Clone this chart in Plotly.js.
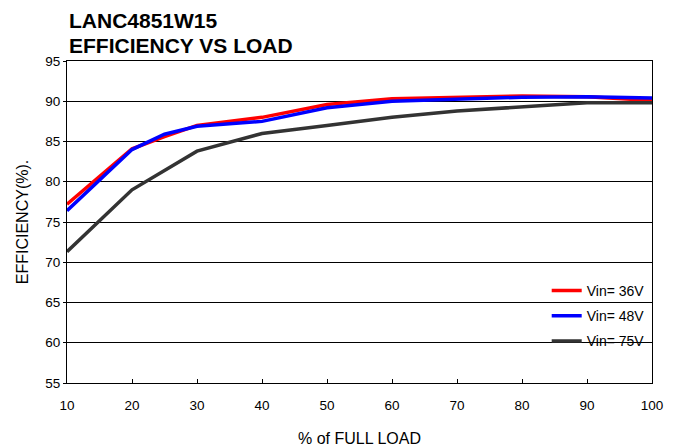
<!DOCTYPE html>
<html><head><meta charset="utf-8">
<script src="https://cdn.plot.ly/plotly-3.0.1.min.js"></script>
<style>body{margin:0;background:#fff}#chart{width:685px;height:448px}</style>
</head><body><div id="chart"></div>
<script>
const loadA = [10, 20, 25, 30, 40, 50, 60, 70, 80, 90, 100];
const vin36 = [77.2, 84.1, 85.6, 87.0, 88.0, 89.6, 90.3, 90.5, 90.65, 90.55, 90.1];
const vin48 = [76.4, 84.0, 85.9, 86.9, 87.5, 89.2, 90.0, 90.2, 90.5, 90.55, 90.4];
const loadB = [10, 20, 30, 40, 50, 60, 70, 80, 90, 100];
const vin75 = [71.3, 79.0, 83.8, 86.0, 87.0, 88.0, 88.8, 89.3, 89.8, 89.8];
const names = ["Vin= 36V", "Vin= 48V", "Vin= 75V"];
const colors = ["#ff0000", "#0000ff", "#333333"];
const titleLines = ["LANC4851W15", "EFFICIENCY VS LOAD"];

const traces = [
  {x: loadA, y: vin36, name: names[0], legendgroup: "a", mode: "lines", line: {color: colors[0], width: 3.5}},
  {x: loadA, y: vin48, name: names[1], legendgroup: "b", mode: "lines", line: {color: colors[1], width: 3.5}},
  {x: loadB, y: vin75, name: names[2], legendgroup: "c", mode: "lines", line: {color: colors[2], width: 3.5}}
];
const font = "Liberation Sans, Arial, sans-serif";
const layout = {
  width: 685, height: 448,
  margin: {l: 67, r: 33, t: 61, b: 65},
  paper_bgcolor: "#fff", plot_bgcolor: "#fff",
  font: {family: font, size: 13.5, color: "#000"},
  annotations: [
    {text: "<b>" + titleLines[0] + "</b>", xref: "paper", yref: "paper", x: 0, y: 1, xanchor: "left",
     yanchor: "middle", yshift: 41, showarrow: false, font: {family: font, size: 21, color: "#000"}},
    {text: "<b>" + titleLines[1] + "</b>", xref: "paper", yref: "paper", x: 0, y: 1, xanchor: "left",
     yanchor: "middle", yshift: 16, showarrow: false, font: {family: font, size: 21, color: "#000"}}
  ],
  xaxis: {range: [10, 100], tickvals: [10,20,30,40,50,60,70,80,90,100], showgrid: false,
          showline: true, linecolor: "#000", linewidth: 1, mirror: true,
          ticks: "inside", ticklen: 4, tickcolor: "#000", zeroline: false,
          tickfont: {size: 13.5}, ticklabelstandoff: 10,
          title: {text: "% of FULL LOAD", font: {size: 16}, standoff: 20}},
  yaxis: {range: [55, 95], dtick: 5, showgrid: true, gridcolor: "#000", gridwidth: 1,
          showline: true, linecolor: "#000", linewidth: 1, mirror: true,
          ticks: "outside", ticklen: 3, tickcolor: "#000", zeroline: false,
          tickfont: {size: 13.5},
          title: {text: "EFFICIENCY(%).", font: {size: 16}, standoff: 12}},
  showlegend: true,
  legend: {x: 0.82, xanchor: "left", y: 0.208, yanchor: "middle", bgcolor: "rgba(0,0,0,0)",
           font: {size: 14}, tracegroupgap: 4, itemwidth: 30}
};
Plotly.newPlot("chart", traces, layout, {staticPlot: true});
</script></body></html>
